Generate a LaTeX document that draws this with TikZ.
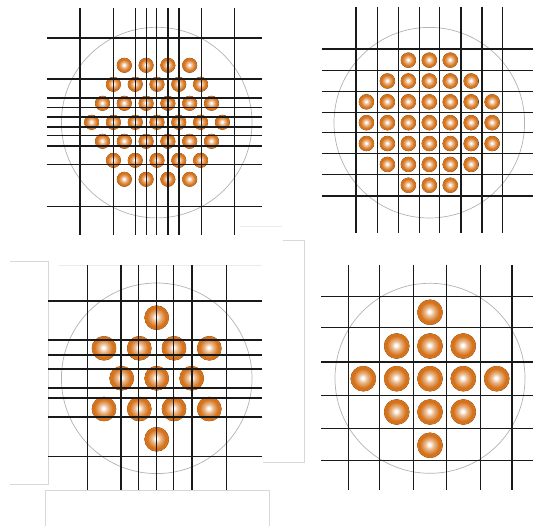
\documentclass[tikz,border=0pt]{standalone}
\usetikzlibrary{shadings}
\definecolor{beadc}{HTML}{D5721A}
\definecolor{frame}{HTML}{D8D8D8}
\pgfdeclareradialshading{bead}{\pgfpoint{-1.5bp}{1.5bp}}{color(0bp)=(white); color(2bp)=(white); color(9bp)=(beadc!50!white); color(19bp)=(beadc); color(50bp)=(beadc)}
\tikzset{
  gridline/.style={line width=1.1pt, draw=black!90},
  ring/.style={line width=0.7pt, draw=black!30},
  framel/.style={line width=0.6pt, draw=frame},
  beadfill/.style={shading=bead}
}
\begin{document}
\begin{tikzpicture}[x=1pt,y=-1pt]
\useasboundingbox (0,0) rectangle (533,526);
% faint frame remnants
\draw[framel] (10,261.7) -- (48.3,261.7) -- (48.3,484.3) -- (10,484.3);
\draw[framel] (282.7,240) -- (304,240) -- (304,462.7) -- (263.3,462.7);
\draw[framel] (45.7,526) -- (45.7,490) -- (269.3,490) -- (269.3,526);
\draw[framel, draw=frame!50] (59,265.7) -- (262,265.7);
\draw[framel, draw=frame!50] (240,226.7) -- (281.7,226.7);

% ===== Quadrant 1 : hexagonal bundle =====
\foreach \j in {-3,...,3}{
  \pgfmathtruncatemacro{\n}{7-abs(\j)}
  \pgfmathtruncatemacro{\m}{\n-1}
  \foreach \i in {0,...,\m}{
    \pgfmathsetmacro{\xx}{157+(\i-\m/2)*21.8}
    \pgfmathsetmacro{\yy}{122.3+\j*19}
    \fill[beadfill] (\xx,\yy) circle (7.4);
  }
}
\draw[ring] (156.7,122.6) circle (95.3);
\foreach \x in {80,113.3,135.7,146.7,156.7,168,179,201.3,234.7}
  \draw[gridline] (\x,8.3) -- (\x,235);
\foreach \y in {38,79,98,107.7,117,127,135.7,146,164.7,206.7}
  \draw[gridline] (46.7,\y) -- (261.7,\y);

% ===== Quadrant 2 : square bundle =====
\foreach \j in {-3,...,3}{
  \pgfmathtruncatemacro{\k}{abs(\j)<2 ? 3 : (abs(\j)==2 ? 2 : 1)}
  \foreach \i in {-\k,...,\k}{
    \pgfmathsetmacro{\xx}{429.3+\i*20.95}
    \pgfmathsetmacro{\yy}{122.7+\j*20.85}
    \fill[beadfill] (\xx,\yy) circle (7.6);
  }
}
\draw[ring] (429.3,122.7) circle (95.3);
\foreach \x in {356,377.3,398.3,419.3,439.3,461,482,502.7}
  \draw[gridline] (\x,6.7) -- (\x,233);
\foreach \y in {49,70.3,91.3,112.3,132.7,153.7,174.3,196}
  \draw[gridline] (321.7,\y) -- (533,\y);

% ===== Quadrant 3 : 13 large beads, hexagonal =====
\foreach \p in {(156.7,317.7),
  (104,348.3),(139.3,348.3),(174,348.3),(209.3,348.3),
  (121.7,378.3),(156.7,378.3),(191.7,378.3),
  (104,409),(139.3,409),(174,409),(209.3,409),
  (156.7,439.3)}
  \fill[beadfill] \p circle (12.2);
\draw[ring] (156.7,378.3) circle (95.3);
\foreach \x in {87.3,121,138.7,156.7,173.7,192,226.7}
  \draw[gridline] (\x,265) -- (\x,490);
\foreach \y in {301,340,355,369,388,398,417,456.3}
  \draw[gridline] (48.3,\y) -- (262.3,\y);

% ===== Quadrant 4 : 13 large beads, square =====
\foreach \p in {(430,312.3),
  (396.7,346),(430,346),(463.3,346),
  (363.3,378.7),(396.7,378.7),(430,378.7),(463.3,378.7),(496.7,378.7),
  (396.7,412),(430,412),(463.3,412),
  (430,445.3)}
  \fill[beadfill] \p circle (12.7);
\draw[ring] (430,378.3) circle (95);
\foreach \x in {348.3,379.3,413.3,446.7,480.3,512}
  \draw[gridline] (\x,265) -- (\x,490);
\foreach \y in {296.7,327.7,362,395.3,428.3,460.7}
  \draw[gridline] (321,\y) -- (533,\y);
\end{tikzpicture}
\end{document}
